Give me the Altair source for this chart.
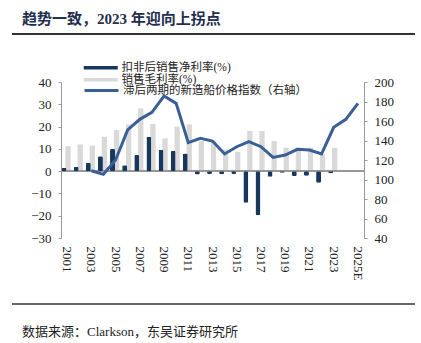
import altair as alt
import pandas as pd

years = ["2001", "2002", "2003", "2004", "2005", "2006", "2007", "2008", "2009", "2010",
         "2011", "2012", "2013", "2014", "2015", "2016", "2017", "2018", "2019", "2020",
         "2021", "2022", "2023", "2024", "2025E"]
net_margin = [1.5, 2.0, 3.7, 6.7, 9.9, 2.7, 7.2, 15.4, 9.6, 9.0,
              7.9, -1.5, -1.3, -1.4, -1.3, -14.2, -19.8, -2.5, -0.7, -2.2,
              -2.1, -5.2, -0.9, None, None]
gross_margin = [11.2, 12.0, 11.5, 15.4, 18.4, 21.0, 28.2, 21.2, 14.7, 20.0,
                21.0, 13.5, 13.5, 9.7, 8.7, 18.0, 18.0, 13.5, 10.5, 10.5,
                10.5, 7.5, 10.5, None, None]
price_index = [None, None, 109.0, 105.3, 120.0, 150.8, 161.7, 168.9, 185.6, 178.1,
               137.8, 142.3, 139.5, 126.2, 133.6, 138.8, 133.6, 122.7, 125.1, 131.0,
               130.3, 126.2, 153.5, 161.7, 178.1]
x_labels = ["2001", "2003", "2005", "2007", "2009", "2011", "2013", "2015", "2017",
            "2019", "2021", "2023", "2025E"]
left_ticks = [-30, -20, -10, 0, 10, 20, 30, 40]
right_ticks = [40, 60, 80, 100, 120, 140, 160, 180, 200]

label_net = "扣非后销售净利率(%)"
label_gross = "销售毛利率(%)"
label_idx = "滞后两期的新造船价格指数（右轴）"
title_text = "趋势一致，2023 年迎向上拐点"
source_text = "数据来源：Clarkson，东吴证券研究所"

c_net = "#17375e"
c_gross = "#d9d9d9"
c_line = "#3a5f97"
FONT = "Liberation Serif, Times New Roman, Noto Sans CJK SC"

df = pd.DataFrame({"year": years, "net": net_margin, "gross": gross_margin, "idx": price_index})
df["s_net"] = label_net
df["s_gross"] = label_gross
df["s_idx"] = label_idx

x_enc = alt.X("year:N", sort=years,
              scale=alt.Scale(domain=years, paddingInner=0, paddingOuter=0),
              axis=alt.Axis(values=x_labels, labelAngle=90, labelAlign="left", labelBaseline="middle",
                            labelPadding=8, domain=False, ticks=False, title=None, labelOverlap=False,
                            labelFont=FONT, labelFontSize=13, labelColor="#222"))

left_scale = alt.Scale(domain=[-30, 40], nice=False, zero=False)
left_axis = alt.Axis(values=left_ticks, title=None, orient="left", domainColor="#999",
                     tickColor="#999", tickSize=3, labelPadding=7, grid=False, labelOverlap=False,
                     labelFont=FONT, labelFontSize=13, labelColor="#222")

fill_scale = alt.Scale(domain=[label_net, label_gross], range=[c_net, c_gross])
bar_legend = alt.Legend(title=None, orient="none", legendX=34, legendY=-20,
                        symbolType="M-3.4,-0.35H3.4V0.35H-3.4Z", symbolSize=100,
                        symbolStrokeWidth=0, labelOffset=15, rowPadding=-2, padding=0,
                        labelLimit=400, labelFont=FONT, labelFontSize=11.5, labelColor="#222")

gray = alt.Chart(df).mark_bar(width=5.3, xOffset=1).encode(
    x=x_enc,
    y=alt.Y("gross:Q", scale=left_scale, axis=left_axis),
    fill=alt.Fill("s_gross:N", scale=fill_scale, legend=bar_legend),
)
dark = alt.Chart(df).mark_bar(width=5, xOffset=-3, cornerRadius=1.5).encode(
    x=x_enc,
    y=alt.Y("net:Q", scale=left_scale, axis=left_axis),
    fill=alt.Fill("s_net:N", scale=fill_scale, legend=bar_legend),
)
zero = alt.Chart(df).mark_rule(color="#999", strokeWidth=1).encode(
    y=alt.YDatum(0, scale=left_scale, axis=left_axis),
)
left_group = alt.layer(gray, zero, dark)

line = alt.Chart(df).mark_line(strokeWidth=3, strokeJoin="miter").encode(
    x=x_enc,
    y=alt.Y("idx:Q", scale=alt.Scale(domain=[40, 200], nice=False, zero=False),
            axis=alt.Axis(values=right_ticks, title=None, orient="right", domainColor="#999",
                          tickColor="#999", tickSize=3, labelPadding=7, grid=False, labelOverlap=False,
                          labelFont=FONT, labelFontSize=13, labelColor="#222")),
    stroke=alt.Stroke("s_idx:N", scale=alt.Scale(domain=[label_idx], range=[c_line]),
                      legend=alt.Legend(title=None, orient="none", legendX=34, legendY=2,
                                        symbolType="M-3.4,0H3.4", symbolSize=100,
                                        symbolStrokeWidth=3, labelOffset=15, padding=0,
                                        labelLimit=400, labelFont=FONT, labelFontSize=11.5,
                                        labelColor="#222")),
)

one = pd.DataFrame({"t": [0]})
title_mark = alt.Chart(one).mark_text(
    text=title_text, font=FONT, fontSize=15, fontWeight="bold", color="#1f2f4f",
    align="left", baseline="middle").encode(x=alt.value(-39), y=alt.value(-63))
underline = alt.Chart(one).mark_rule(color="#333", strokeWidth=1.8).encode(
    x=alt.value(-49), x2=alt.value(354), y=alt.value(-48))
footer_rule = alt.Chart(one).mark_rule(color="#333", strokeWidth=1.5).encode(
    x=alt.value(-49), x2=alt.value(354), y=alt.value(222))
footer_mark = alt.Chart(one).mark_text(
    text=source_text, font=FONT, fontSize=13, color="#222",
    align="left", baseline="middle").encode(x=alt.value(-39), y=alt.value(250))

chart = alt.layer(left_group, line, title_mark, underline, footer_rule, footer_mark).resolve_scale(
    y="independent", fill="independent", stroke="independent"
).properties(
    width=303, height=156,
    autosize=alt.AutoSizeParams(type="none"),
    padding={"left": 61, "top": 82, "right": 57, "bottom": 105},
    background="white",
).configure_view(stroke=None).configure_axis(labelOverlap=False)

chart.save("out.html", embed_options={"renderer": "svg", "actions": False})
